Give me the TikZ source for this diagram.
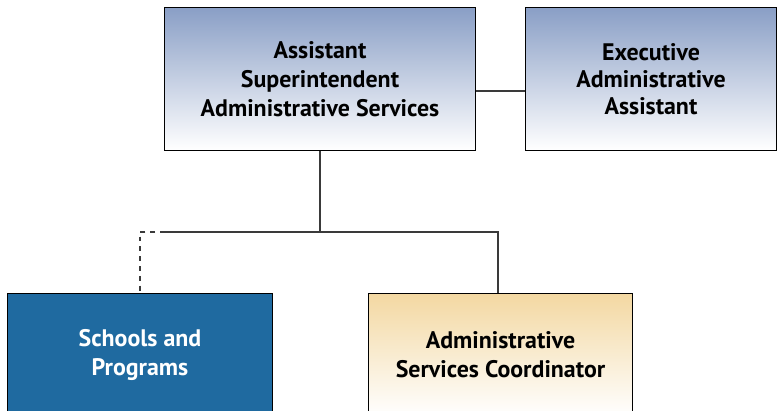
\documentclass[tikz,border=0pt]{standalone}
\usepackage{fontspec}
\setmainfont{PT Sans}
\usetikzlibrary{positioning}
\definecolor{asstblue}{HTML}{8A9FC6}
\definecolor{schoolblue}{HTML}{1F6AA0}
\definecolor{coordtan}{HTML}{F3D8A2}
\definecolor{linegray}{HTML}{3A3A3A}
\begin{document}
\begin{tikzpicture}[x=0.025cm, y=-0.025cm,
    orgbox/.style={draw=black, line width=0.7pt, align=center, inner sep=0pt,
      font=\fontsize{17}{20.5}\selectfont\bfseries},
    bluegrad/.style={orgbox, top color=asstblue, bottom color=white},
    link/.style={draw=linegray, line width=1.1pt}]
    \path[use as bounding box, clip] (0,0) rectangle (777,411);
    \fill[white] (0,0) rectangle (777,411);
    % top row
    \node[bluegrad, minimum width=7.75cm, minimum height=3.55cm] (asst) at (320,79)
      {Assistant\\Superintendent\\Administrative Services};
    \node[bluegrad, minimum width=6.25cm, minimum height=3.55cm,
      font=\fontsize{17}{19}\selectfont\bfseries] (exec) at (651,79)
      {Executive\\Administrative\\Assistant};
    % bottom row
    \node[orgbox, fill=schoolblue, text=white, minimum width=6.6cm, minimum height=3.05cm] (schools) at (140,355)
      {Schools and\\Programs};
    \node[orgbox, top color=coordtan, bottom color=white, minimum width=6.575cm, minimum height=3.05cm] (coord) at (500.5,355)
      {Administrative\\Services Coordinator};
    % connectors
    \coordinate (execlink) at ([yshift=-0.3cm]asst.east);
    \coordinate (split) at (320,232);
    \coordinate (dashstart) at (165,232);
    \draw[link] (execlink) -- (execlink -| exec.west);
    \draw[link] (asst.south) -- (split) -| ([xshift=-0.06cm]coord.north);
    \draw[link] (split) -- (dashstart);
    \draw[link, dash pattern=on 3.5pt off 3.5pt] (dashstart) -| (schools.north);
  \end{tikzpicture}
\end{document}
